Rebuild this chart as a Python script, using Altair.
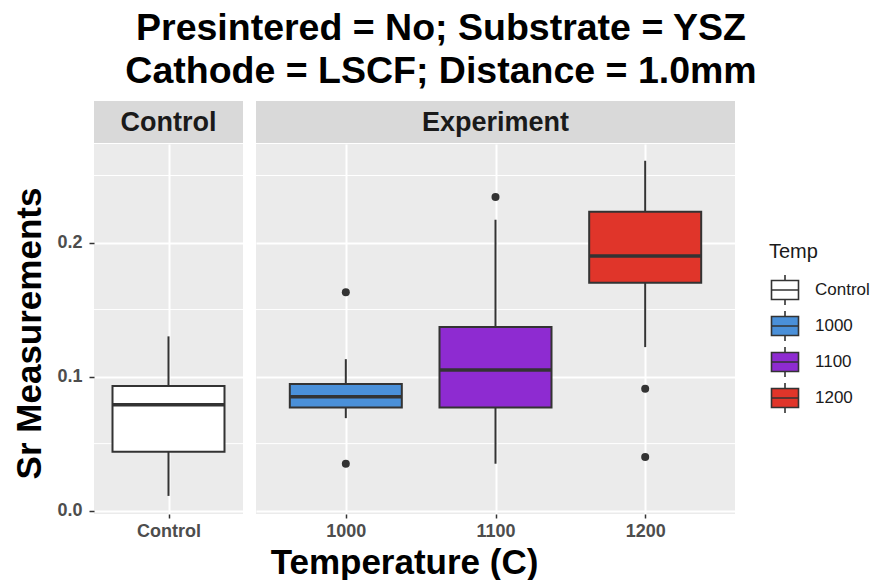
import altair as alt
import pandas as pd

# ---- data ----
temps = ["Control", "1000", "1100", "1200"]
panels = ["Control", "Experiment", "Experiment", "Experiment"]
lower = [0.011, 0.069, 0.035, 0.122]
q1 = [0.044, 0.077, 0.077, 0.170]
median = [0.079, 0.085, 0.105, 0.190]
q3 = [0.093, 0.0945, 0.137, 0.223]
upper = [0.130, 0.113, 0.217, 0.261]
fill_colors = ["#FFFFFF", "#4A90D9", "#8E2BD1", "#E0352A"]

out_temp = ["1000", "1000", "1100", "1200", "1200"]
out_panel = ["Experiment", "Experiment", "Experiment", "Experiment", "Experiment"]
out_value = [0.163, 0.035, 0.234, 0.091, 0.040]

minor_breaks = [0.05, 0.15, 0.25]
major_breaks = [0.0, 0.1, 0.2]
y_domain = [-0.0025, 0.2735]

title_lines = ["Presintered = No; Substrate = YSZ", "Cathode = LSCF; Distance = 1.0mm"]

stats = pd.DataFrame({"temp": temps, "panel": panels, "lower": lower, "q1": q1,
                      "median": median, "q3": q3, "upper": upper})
outliers = pd.DataFrame({"temp": out_temp, "panel": out_panel, "value": out_value})
minor_df = pd.DataFrame({"v": minor_breaks})

FONT = "Liberation Sans"
PANEL_H = 370
BOX_W = 112

y_scale = alt.Scale(domain=y_domain, nice=False, zero=False)
fill_scale = alt.Scale(domain=temps, range=fill_colors)

box_path = "M-0.9,-0.63H0.9V0.63H-0.9Z M-0.9,0H0.9 M0,-0.63V-1 M0,0.63V1"


def make_panel(name, width, first):
    cats = [t for t, p in zip(temps, panels) if p == name]
    sdf = stats[stats.panel == name]
    odf = outliers[outliers.panel == name]

    x_axis = alt.Axis(
        title="Temperature (C)" if not first else None,
        titleX=148, titleY=59, titleAlign="center", titleBaseline="alphabetic",
        titleFontSize=35, titleFont=FONT, titleFontWeight="bold", titleColor="#000000",
        labelAngle=0, labelFontSize=18, labelFont=FONT, labelFontWeight="bold",
        labelColor="#4D4D4D", labelPadding=4,
        tickSize=4, tickColor="#333333", tickWidth=1.5,
        domain=False, grid=True, gridColor="#FFFFFF", gridWidth=2,
    )
    x_enc = alt.X("temp:N", sort=cats,
                  scale=alt.Scale(type="point", padding=0.6, domain=cats),
                  axis=x_axis)

    if first:
        y_axis = alt.Axis(
            title="Sr Measurements", values=major_breaks, format=".1f",
            titleFontSize=35, titleFont=FONT, titleFontWeight="bold", titleColor="#000000",
            titleX=-54, titleY=PANEL_H / 2 + 4, titleAlign="center", titleBaseline="alphabetic",
            titleAngle=270,
            labelFontSize=18, labelFont=FONT, labelFontWeight="bold", labelColor="#4D4D4D",
            labelPadding=7, tickSize=5, tickColor="#333333", tickWidth=1.5,
            domain=False, grid=True, gridColor="#FFFFFF", gridWidth=2,
        )
    else:
        y_axis = alt.Axis(
            title=None, values=major_breaks, labels=False, ticks=False, domain=False,
            grid=True, gridColor="#FFFFFF", gridWidth=2,
        )

    minor = alt.Chart(minor_df).mark_rule(color="#FFFFFF", strokeWidth=1).encode(
        y=alt.Y("v:Q", scale=y_scale, axis=y_axis)
    )

    base = alt.Chart(sdf)
    whisk = base.mark_rule(color="#333333", strokeWidth=2).encode(
        x=x_enc, y=alt.Y("lower:Q", scale=y_scale), y2="upper:Q"
    )
    box = base.mark_bar(size=BOX_W, stroke="#333333", strokeWidth=2).encode(
        x=x_enc, y=alt.Y("q1:Q", scale=y_scale), y2="q3:Q",
        fill=alt.Fill("temp:N", scale=fill_scale, sort=temps,
                      legend=alt.Legend(
                          title="Temp", orient="none", legendX=675, legendY=98,
                          titleFontSize=20, titleFont=FONT, titleFontWeight="normal",
                          titleColor="#1A1A1A", titlePadding=12,
                          labelFontSize=17, labelFont=FONT, labelColor="#1A1A1A",
                          labelOffset=14,
                          symbolType=box_path, symbolSize=900,
                          symbolStrokeColor="#333333", symbolStrokeWidth=1.6,
                          rowPadding=-2, padding=0,
                      )),
    )
    med = base.mark_tick(size=BOX_W, thickness=3.5, color="#333333", opacity=1).encode(
        x=x_enc, y=alt.Y("median:Q", scale=y_scale)
    )
    pts = alt.Chart(odf).mark_circle(size=64, color="#333333", opacity=1).encode(
        x=x_enc, y=alt.Y("value:Q", scale=y_scale)
    )

    strip_df = pd.DataFrame({"label": [name]})
    strip = alt.Chart(strip_df).mark_rect(color="#D9D9D9", clip=False).encode(
        x=alt.value(0), x2=alt.value(width), y=alt.value(-43), y2=alt.value(-1)
    )
    strip_txt = alt.Chart(strip_df).mark_text(
        font=FONT, fontSize=27, fontWeight="bold", color="#1A1A1A",
        align="center", baseline="middle", clip=False,
    ).encode(x=alt.value(width / 2), y=alt.value(-21), text="label:N")

    layers = [minor, whisk, box, med]
    if len(odf):
        layers.append(pts)
    layers += [strip, strip_txt]
    return alt.layer(*layers).properties(width=width, height=PANEL_H)


left = make_panel("Control", 149, True)
right = make_panel("Experiment", 479, False)

chart = alt.hconcat(left, right, spacing=11).resolve_scale(fill="shared").properties(
    title=alt.Title(title_lines, fontSize=37.5, font=FONT, fontWeight="bold",
                    color="#000000", lineHeight=43, anchor="middle", offset=11),
    padding={"left": 11, "top": 9, "right": 0, "bottom": 0},
).configure_view(fill="#EBEBEB", strokeWidth=0)

chart.save("out.html", embed_options={"renderer": "svg", "actions": False})
